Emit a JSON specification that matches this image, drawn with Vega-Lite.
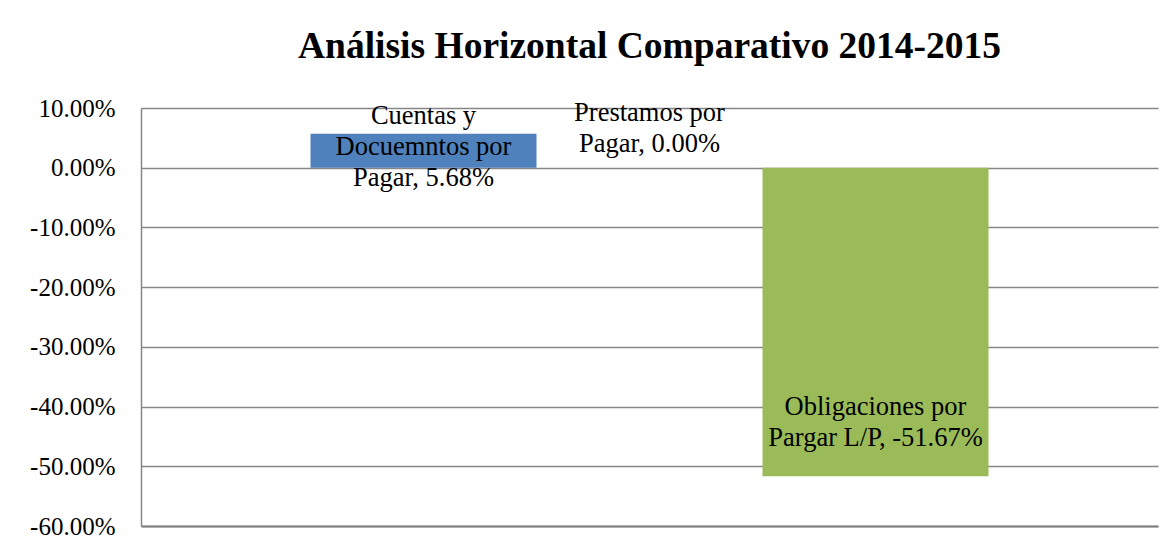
{
  "$schema": "https://vega.github.io/schema/vega-lite/v6.json",
  "width": 1017,
  "height": 418,
  "autosize": {"type": "none"},
  "padding": {"left": 141, "top": 108, "right": 16, "bottom": 22},
  "background": "white",
  "title": {
    "text": "Análisis Horizontal Comparativo 2014-2015",
    "font": "Liberation Serif, Times New Roman, serif",
    "fontSize": 37.5,
    "fontWeight": "bold",
    "color": "black",
    "anchor": "middle",
    "offset": 31
  },
  "data": {
    "values": [
      {"cuenta": "Cuentas y Docuemntos por Pagar", "valor": 0.0568, "etiqueta": "Cuentas y\nDocuemntos por\nPagar, 5.68%"},
      {"cuenta": "Prestamos por Pagar", "valor": 0.0, "etiqueta": "Prestamos por\nPagar, 0.00%"},
      {"cuenta": "Obligaciones por Pargar L/P", "valor": -0.5167, "etiqueta": "Obligaciones por\nPargar L/P, -51.67%"}
    ]
  },
  "encoding": {
    "x": {
      "field": "cuenta",
      "type": "nominal",
      "sort": null,
      "scale": {"paddingInner": 0, "paddingOuter": 0.75},
      "axis": {"title": null, "labels": false, "ticks": false, "domain": true, "domainColor": "#808080", "domainWidth": 2, "grid": false}
    },
    "y": {
      "field": "valor",
      "type": "quantitative",
      "scale": {"domain": [-0.6, 0.1], "nice": false, "zero": false},
      "axis": {
        "title": null,
        "values": [-0.6, -0.5, -0.4, -0.3, -0.2, -0.1, 0, 0.1],
        "labelExpr": "replace(format(datum.value, '.2%'), '−', '-')",
        "ticks": false,
        "labelPadding": 26,
        "labelFont": "Liberation Serif, Times New Roman, serif",
        "labelFontSize": 25,
        "labelColor": "black",
        "domainColor": "#868686",
        "domainWidth": 1.5,
        "grid": true,
        "gridColor": "#868686",
        "gridWidth": 1.5
      }
    }
  },
  "layer": [
    {
      "mark": {"type": "bar"},
      "encoding": {
        "color": {
          "field": "cuenta",
          "type": "nominal",
          "sort": null,
          "scale": {"domain": ["Cuentas y Docuemntos por Pagar", "Prestamos por Pagar", "Obligaciones por Pargar L/P"], "range": ["#4F81BD", "#C0504D", "#9BBB59"]},
          "legend": null
        }
      }
    },
    {
      "transform": [{"filter": "datum.cuenta == 'Cuentas y Docuemntos por Pagar'"}],
      "mark": {"type": "text", "font": "Liberation Serif, Times New Roman, serif", "fontSize": 26.5, "lineHeight": 31, "lineBreak": "\n", "baseline": "middle", "align": "center", "color": "black", "dy": -18},
      "encoding": {"text": {"field": "etiqueta"}}
    },
    {
      "transform": [{"filter": "datum.cuenta == 'Prestamos por Pagar'"}],
      "mark": {"type": "text", "font": "Liberation Serif, Times New Roman, serif", "fontSize": 26.5, "lineHeight": 31, "lineBreak": "\n", "baseline": "middle", "align": "center", "color": "black", "dy": -55},
      "encoding": {"text": {"field": "etiqueta"}}
    },
    {
      "transform": [{"filter": "datum.cuenta == 'Obligaciones por Pargar L/P'"}],
      "mark": {"type": "text", "font": "Liberation Serif, Times New Roman, serif", "fontSize": 26.5, "lineHeight": 31, "lineBreak": "\n", "baseline": "middle", "align": "center", "color": "black", "dy": -69},
      "encoding": {"text": {"field": "etiqueta"}}
    }
  ],
  "config": {"view": {"stroke": null}}
}
